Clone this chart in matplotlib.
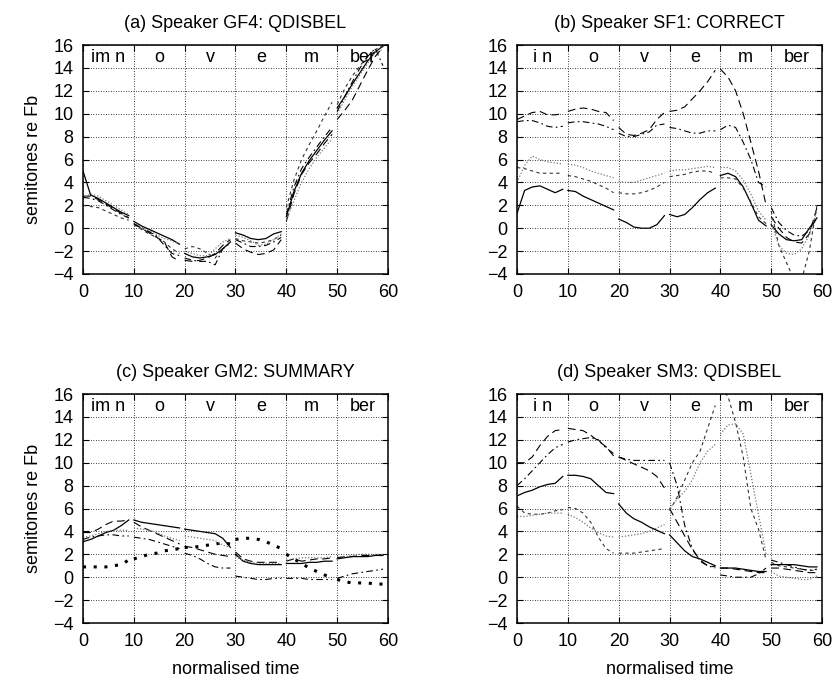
import numpy as np
import matplotlib
matplotlib.use("Agg")
import matplotlib.pyplot as plt

plt.rcParams['font.family'] = ['Liberation Sans', 'DejaVu Sans']
plt.rcParams['font.size'] = 13

# sample positions inside each 10-unit syllable slot
offsets = [0, 1.5, 3, 4.5, 6, 7.5, 9]
n_seg = 6

titles = ["(a) Speaker GF4: QDISBEL", "(b) Speaker SF1: CORRECT",
          "(c) Speaker GM2: SUMMARY", "(d) Speaker SM3: QDISBEL"]
syll_a = ["im n", "o", "v", "e", "m", "ber"]
syll_b = ["i n", "o", "v", "e", "m", "ber"]
syllables = [syll_a, syll_b, syll_a, syll_b]

# panel (a) GF4
a_solid = [5.0, 2.9, 2.6, 2.2, 1.8, 1.4, 1.1,
           0.6, 0.2, -0.1, -0.4, -0.7, -1.0, -1.4,
           -2.2, -2.5, -2.6, -2.5, -2.3, -1.8, -1.2,
           -0.4, -0.6, -0.9, -1.0, -0.9, -0.5, -0.3,
           1.0, 3.2, 4.8, 5.9, 6.8, 7.7, 8.5,
           10.5, 11.5, 12.6, 13.6, 14.6, 15.4, 15.9]
a_dash = [2.8, 2.8, 2.5, 2.1, 1.7, 1.3, 0.9,
          0.4, 0.0, -0.4, -0.8, -1.2, -2.5, -2.9,
          -2.8, -2.9, -2.8, -2.6, -2.2, -1.5, -1.0,
          -1.3, -1.8, -2.1, -2.3, -2.2, -1.9, -1.0,
          0.6, 3.0, 4.7, 5.7, 6.5, 7.4, 8.2,
          9.5, 10.3, 11.2, 12.5, 13.8, 15.0, 15.8]
a_short = [2.0, 1.9, 1.8, 1.5, 1.2, 0.9, 0.7,
           0.3, -0.1, -0.5, -0.8, -1.2, -1.8, -2.2,
           -1.8, -1.6, -1.8, -2.2, -2.6, -1.8, -1.2,
           -0.9, -1.1, -1.2, -1.3, -1.2, -1.0, -0.6,
           1.8, 4.2, 6.0, 7.3, 8.5, 9.8, 11.0,
           10.8, 12.2, 13.3, 14.2, 15.0, 15.6, 16.0]
a_dot = [2.6, 3.0, 2.8, 2.4, 2.0, 1.6, 1.2,
         0.5, 0.1, -0.2, -0.6, -0.9, -1.1, -1.4,
         -2.0, -2.2, -2.4, -2.4, -1.8, -1.2, -0.9,
         -0.6, -0.8, -1.1, -1.5, -1.4, -1.0, -0.5,
         0.7, 2.4, 4.0, 5.2, 6.2, 7.0, 7.8,
         10.0, 11.2, 12.4, 13.4, 14.4, 15.4, 15.6]
a_dashdot = [2.7, 2.6, 2.4, 2.0, 1.6, 1.2, 0.9,
             0.4, 0.0, -0.3, -0.7, -1.5, -2.2, -2.4,
             -2.6, -2.8, -2.9, -2.9, -3.2, -1.8, -1.3,
             -1.0, -1.3, -1.6, -1.6, -1.5, -1.2, -0.8,
             1.2, 3.6, 5.2, 6.2, 7.1, 8.0, 8.8,
             10.2, 11.5, 12.8, 14.0, 15.0, 15.7, 14.2]

# panel (b) SF1
b_solid = [1.3, 3.3, 3.6, 3.7, 3.4, 3.1, 3.4,
           3.3, 3.2, 2.8, 2.5, 2.2, 1.9, 1.6,
           0.8, 0.5, 0.1, 0.0, 0.0, 0.3, 1.1,
           1.2, 1.0, 1.2, 1.8, 2.5, 3.1, 3.5,
           4.6, 4.8, 4.5, 3.6, 2.2, 0.7, 0.2,
           0.3, -0.5, -1.0, -1.1, -1.0, 0.0, 0.9]
b_dash = [9.5, 9.8, 10.1, 10.2, 9.9, 9.9, 10.0,
          10.2, 10.4, 10.5, 10.4, 10.2, 10.1, 9.4,
          8.8, 8.2, 8.1, 8.3, 8.6, 9.5, 10.1,
          10.2, 10.3, 10.6, 11.3, 12.0, 12.8, 13.8,
          13.9, 13.2, 12.0, 10.0, 7.5, 5.0, 2.0,
          1.0, 0.0, -0.8, -1.2, -1.3, -0.5, 1.8]
b_short = [5.3, 5.2, 5.0, 4.8, 4.8, 4.8, 4.8,
           4.6, 4.5, 4.3, 4.1, 3.8, 3.5, 3.1,
           3.1, 3.0, 3.0, 3.1, 3.3, 3.6, 4.0,
           4.5, 4.6, 4.7, 4.9, 5.0, 5.0, 4.8,
           4.4, 4.4, 4.3, 3.5, 2.3, 1.0, 0.4,
           1.5, -1.5, -3.0, -4.5, -4.5, -2.0, 2.0]
b_dot = [4.0, 5.5, 6.3, 6.0, 5.8, 5.7, 5.6,
         5.6, 5.5, 5.3, 5.0, 4.8, 4.6, 4.4,
         4.1, 4.0, 4.0, 4.2, 4.4, 4.6, 4.8,
         5.0, 5.1, 5.1, 5.2, 5.3, 5.4, 5.3,
         5.3, 5.3, 5.0, 4.2, 3.0, 1.5, 0.7,
         0.5, -1.5, -2.2, -2.3, -1.8, -0.6, 1.5]
b_dashdot = [9.3, 9.4, 9.4, 9.2, 8.9, 8.8, 8.9,
             9.2, 9.3, 9.3, 9.2, 9.1, 8.9, 8.6,
             8.3, 8.0, 8.0, 8.2, 8.4, 9.0, 9.1,
             8.8, 8.7, 8.5, 8.3, 8.3, 8.5, 8.5,
             8.6, 9.0, 8.8, 7.5, 6.0, 4.0, 3.6,
             1.8, 0.5, -0.2, -0.6, -0.7, -0.2, 0.9]

# panel (c) GM2
c_solid = [3.1, 3.3, 3.6, 3.9, 4.1, 4.5, 5.0,
           5.0, 4.8, 4.7, 4.6, 4.5, 4.4, 4.3,
           4.2, 4.1, 4.0, 3.9, 3.8, 3.4, 2.6,
           2.0, 1.4, 1.2, 1.1, 1.1, 1.1, 1.1,
           1.2, 1.2, 1.2, 1.3, 1.3, 1.4, 1.4,
           1.6, 1.7, 1.8, 1.8, 1.8, 1.9, 1.9]
c_dash = [3.9, 3.9, 4.2, 4.6, 4.9, 4.9, 5.0,
          4.8, 4.4, 4.1, 3.8, 3.5, 3.2, 2.9,
          2.7, 2.6, 2.4, 2.2, 2.0, 1.9, 1.8,
          2.2, 1.6, 1.4, 1.3, 1.3, 1.3, 1.3,
          1.4, 1.6, 1.4, 1.5, 1.6, 1.6, 1.7,
          1.7, 1.8, 1.8, 1.9, 1.9, 1.9, 2.0]
c_bolddot = [0.9, 0.9, 0.9, 0.9, 1.0, 1.1, 1.5,
             1.6, 1.8, 2.0, 2.1, 2.3, 2.4, 2.5,
             2.6, 2.6, 2.7, 2.8, 2.9, 3.0, 2.9,
             3.3, 3.4, 3.4, 3.3, 3.1, 2.8, 2.5,
             2.0, 1.6, 1.2, 0.8, 0.5, 0.2, -0.1,
             -0.2, -0.4, -0.5, -0.5, -0.5, -0.6, -0.6]
c_dot = [3.5, 3.6, 3.8, 4.0, 4.1, 4.1, 4.1,
         4.3, 4.2, 4.1, 3.9, 3.6, 3.4, 3.2,
         3.6, 3.5, 3.4, 3.3, 3.2, 2.8, 2.6,
         1.8, 1.5, 1.3, 1.2, 1.2, 1.2, 1.2,
         1.5, 1.6, 1.7, 1.7, 1.7, 1.7, 1.8,
         1.8, 1.8, 1.9, 2.0, 2.0, 2.0, 2.0]
c_dashdot = [3.3, 3.5, 3.6, 3.7, 3.7, 3.6, 3.6,
             3.5, 3.4, 3.3, 3.1, 2.9, 2.7, 2.5,
             2.1, 1.9, 1.6, 1.2, 0.9, 0.8, 0.8,
             0.1, 0.0, -0.1, -0.2, -0.2, -0.1, -0.1,
             -0.1, -0.1, -0.1, -0.2, -0.2, -0.2, -0.2,
             -0.1, 0.1, 0.3, 0.4, 0.5, 0.6, 0.7]

# panel (d) SM3
d_solid = [7.1, 7.4, 7.6, 7.9, 8.1, 8.2, 8.8,
           8.9, 8.9, 8.8, 8.6, 8.0, 7.4, 7.3,
           6.4, 5.6, 5.1, 4.8, 4.4, 4.1, 3.8,
           3.7, 3.0, 2.3, 1.8, 1.6, 1.3, 1.0,
           0.8, 0.8, 0.8, 0.7, 0.6, 0.5, 0.5,
           1.1, 1.1, 1.1, 1.1, 1.0, 0.9, 0.9]
d_dash = [10.0, 10.0, 10.5, 11.5, 12.3, 12.8, 12.9,
          13.0, 12.9, 12.8, 12.4, 11.9, 11.4, 10.6,
          10.5, 10.2, 9.9, 9.6, 9.3, 8.8, 7.8,
          6.0, 4.8, 3.6, 2.4, 1.5, 1.0, 0.9,
          0.8, 0.8, 0.7, 0.6, 0.5, 0.4, 0.4,
          0.8, 0.8, 0.7, 0.6, 0.5, 0.4, 0.4]
d_short = [6.2, 5.6, 5.5, 5.5, 5.6, 5.8, 5.9,
           6.1, 6.0, 5.6, 4.8, 3.5, 2.5, 2.1,
           2.1, 2.1, 2.1, 2.2, 2.3, 2.4, 2.5,
           5.8, 7.0, 8.5, 10.0, 11.0, 13.0, 15.0,
           16.5, 15.8, 13.5, 10.5, 6.0, 4.2, 1.5,
           1.3, 1.0, 0.9, 0.8, 0.7, 0.6, 0.6]
d_dot = [5.3, 5.3, 5.4, 5.5, 5.6, 5.6, 5.6,
         5.5, 5.2, 4.8, 4.3, 3.9, 3.6, 3.5,
         3.5, 3.6, 3.7, 3.8, 4.0, 4.3, 4.6,
         6.0, 6.8, 7.5, 8.5, 10.0, 11.0, 11.6,
         12.5, 13.3, 13.4, 12.5, 9.0, 5.5, 2.0,
         0.5, 0.1, 0.0, -0.1, -0.2, -0.2, 0.1]
d_dashdot = [8.0, 8.6, 9.3, 10.0, 10.7, 11.3, 11.6,
             11.8, 12.0, 12.1, 12.2, 12.0, 11.3, 10.8,
             10.5, 10.3, 10.2, 10.2, 10.2, 10.2, 10.2,
             10.0, 8.0, 4.5, 2.5, 1.4, 1.0, 0.8,
             0.2, 0.1, 0.0, 0.0, 0.0, 0.3, 0.8,
             1.5, 1.3, 1.1, 0.9, 0.7, 0.6, 0.7]

styles = {
    'solid': dict(color='black', linestyle='-', lw=0.9),
    'dash': dict(color='black', linestyle=(0, (7, 4)), lw=0.8),
    'short': dict(color='#333333', linestyle=(0, (3, 3)), lw=0.8),
    'dot': dict(color='#777777', linestyle=(0, (1, 1.5)), lw=0.9),
    'dashdot': dict(color='black', linestyle=(0, (6, 3, 1.5, 3)), lw=0.8),
    'bolddot': dict(color='black', linestyle=(0, (1, 2.5)), lw=2.2),
}

panels = [
    [('solid', a_solid), ('dash', a_dash), ('short', a_short), ('dot', a_dot), ('dashdot', a_dashdot)],
    [('solid', b_solid), ('dash', b_dash), ('short', b_short), ('dot', b_dot), ('dashdot', b_dashdot)],
    [('solid', c_solid), ('dash', c_dash), ('bolddot', c_bolddot), ('dot', c_dot), ('dashdot', c_dashdot)],
    [('solid', d_solid), ('dash', d_dash), ('short', d_short), ('dot', d_dot), ('dashdot', d_dashdot)],
]

boxes = [(0.0988, 0.600), (0.6155, 0.600), (0.0988, 0.0905), (0.6155, 0.0905)]
w = 0.3631
h = 0.3343

fig = plt.figure(figsize=(8.4, 6.85), dpi=100)

for k in range(4):
    ax = fig.add_axes([boxes[k][0], boxes[k][1], w, h])
    for name, vals in panels[k]:
        v = np.array(vals).reshape(n_seg, len(offsets))
        for s in range(n_seg):
            x = s * 10 + np.array(offsets)
            ax.plot(x, v[s], **styles[name])
    ax.set_xlim(0, 60)
    ax.set_ylim(-4, 16)
    ax.set_xticks(range(0, 61, 10))
    ax.set_yticks(range(-4, 17, 2))
    ax.grid(True, color='black', linestyle=(0, (1, 2)), lw=0.6)
    ax.tick_params(direction='in', top=True, right=True, length=4, pad=7)
    for sp in ax.spines.values():
        sp.set_linewidth(1.1)
    for s in range(n_seg):
        ax.text(s * 10 + 5, 14.9, syllables[k][s], ha='center', va='center')
    ax.set_title(titles[k], pad=12, fontsize=13)
    if k % 2 == 0:
        ax.set_ylabel("semitones re Fb", labelpad=8)
    if k >= 2:
        ax.set_xlabel("normalised time", labelpad=8)

fig.savefig("out.png", dpi=100)
